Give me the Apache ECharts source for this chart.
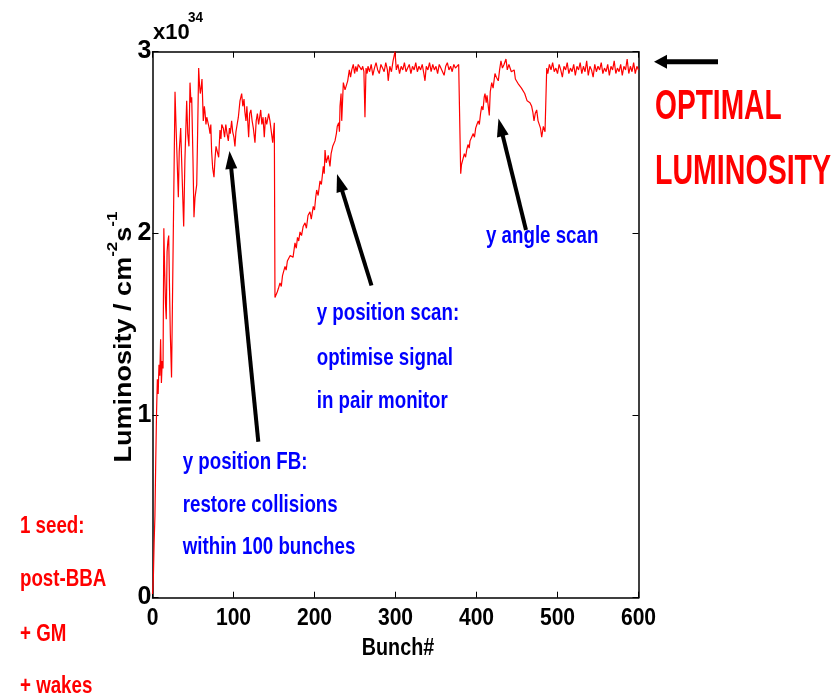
<!DOCTYPE html>
<html>
<head>
<meta charset="utf-8">
<title>Luminosity vs bunch</title>
<script src="https://cdn.jsdelivr.net/npm/echarts@6/dist/echarts.min.js"></script>
<style>
  html, body { margin: 0; padding: 0; background: #fff; }
  #chart { width: 839px; height: 699px; }
</style>
</head>
<body>
<div id="chart"></div>
<script>
// x tick values and y tick values (units of 1e34 cm^-2 s^-1)
var xTicks = [0, 100, 200, 300, 400, 500, 600];
var yTicks = [0, 1, 2, 3];

// [bunch, luminosity]
var trace = [
  [0, 0.02], [1, 0.1], [2, 0.3], [3, 0.45], [4, 0.75], [5, 1.02], [6, 1.2], [7, 1.12],
  [8, 1.28], [9, 1.22], [10, 1.42], [11, 1.18], [12, 1.3], [13, 1.26], [14, 2.03],
  [15, 1.8], [16, 1.62], [17, 1.53], [18, 1.9], [19, 1.96], [20, 1.99], [21, 1.7],
  [22, 1.45], [23.5, 1.21], [24, 1.22], [27.8, 2.78], [29, 2.6], [31.9, 2.2], [33, 2.45],
  [34.8, 2.58], [36, 2.4], [38.5, 2.04], [40, 2.4], [42.2, 2.73], [43.5, 2.55], [45, 2.48],
  [46.3, 2.83], [47.5, 2.72], [48.4, 2.75], [50, 2.4], [51.2, 2.09], [52.5, 2.2],
  [54.6, 2.27], [55.5, 2.5], [57, 2.91], [58, 2.82], [59, 2.77], [60, 2.8], [61.1, 2.85],
  [62.7, 2.62], [64, 2.7], [64.8, 2.67], [66, 2.6], [67, 2.64], [68.9, 2.64], [70, 2.58],
  [71, 2.55], [72, 2.6], [73, 2.45], [74.3, 2.36], [75.9, 2.31], [77, 2.4], [78.4, 2.48],
  [80, 2.47], [81.7, 2.42], [83.3, 2.57], [84.5, 2.52], [85.5, 2.6], [87.4, 2.58],
  [89, 2.53], [90.5, 2.6], [92, 2.55], [93.6, 2.51], [95, 2.58], [96, 2.55], [97.7, 2.62],
  [99, 2.56], [100.5, 2.53], [101.8, 2.48], [103, 2.56], [104.5, 2.6], [106, 2.64],
  [108, 2.73], [110.1, 2.77], [111.5, 2.7], [113, 2.74], [114, 2.67], [115.4, 2.62],
  [116.5, 2.7], [118.7, 2.53], [120, 2.66], [121.5, 2.68], [123, 2.62], [124.5, 2.58],
  [126.5, 2.5], [128, 2.62], [129.5, 2.66], [131, 2.6], [133.6, 2.68], [135, 2.6],
  [136.5, 2.64], [138, 2.53], [139.5, 2.64], [141, 2.6], [143.4, 2.66], [145, 2.62],
  [146.5, 2.63], [148.4, 2.5], [150.4, 2.61], [151.2, 1.65], [152.5, 1.64], [154, 1.68],
  [155.5, 1.7], [157.4, 1.73], [159, 1.71], [160.5, 1.77], [162, 1.76], [163.6, 1.82],
  [165, 1.8], [166.5, 1.85], [168, 1.84], [170, 1.88], [171.9, 1.89], [173.5, 1.87],
  [175.9, 1.95], [177.5, 1.92], [179, 1.98], [180.5, 1.96], [182.1, 2.01], [184, 1.99],
  [186, 2.04], [188.3, 2.06], [190, 2.03], [192, 2.1], [194.4, 2.12], [196, 2.08],
  [198.5, 2.15], [200, 2.13], [201.5, 2.2], [202.7, 2.24], [204.5, 2.21], [206.8, 2.29],
  [208.5, 2.27], [210.9, 2.37], [212, 2.33], [213, 2.46], [214.5, 2.39], [217, 2.43],
  [219.1, 2.37], [220.5, 2.44], [222.5, 2.48], [224, 2.47], [225.3, 2.51], [227, 2.55],
  [228.1, 2.59], [229.9, 2.61], [230.8, 2.56], [231.5, 2.7], [232.8, 2.77], [233.6, 2.62],
  [235.6, 2.83], [237.7, 2.79], [239.5, 2.8], [241, 2.84], [243, 2.9], [244.5, 2.86],
  [246, 2.9], [247.9, 2.93], [249.5, 2.88], [251, 2.92], [252.5, 2.89], [254, 2.93],
  [256.2, 2.94], [258, 2.9], [259.5, 2.92], [261, 2.89], [262.3, 2.64], [263.6, 2.91],
  [265, 2.88], [266, 2.92], [268, 2.89], [270, 2.93], [272, 2.87], [274, 2.91], [276, 2.94],
  [278, 2.9], [280, 2.88], [282, 2.93], [284, 2.91], [286, 2.89], [288, 2.94], [290, 2.9],
  [291, 2.84], [293, 2.92], [295, 2.89], [297, 2.95], [299.4, 3.0], [301, 2.9], [303, 2.93],
  [305, 2.88], [307, 2.92], [309, 2.9], [311, 2.94], [313, 2.89], [315, 2.91], [317, 2.93],
  [319, 2.88], [321, 2.92], [323, 2.9], [325, 2.94], [327, 2.89], [329, 2.92], [331, 2.9],
  [333, 2.93], [335, 2.88], [336.4, 2.84], [338, 2.92], [340, 2.9], [342, 2.94], [344, 2.89],
  [346, 2.93], [348, 2.9], [350, 2.92], [352, 2.88], [354, 2.93], [356, 2.91], [358, 2.9],
  [360, 2.87], [362, 2.92], [364, 2.94], [366, 2.9], [368, 2.92], [370, 2.89], [372, 2.93],
  [374, 2.91], [376, 2.9], [378, 2.93], [379.6, 2.92], [380.5, 2.33], [381.5, 2.38],
  [383.7, 2.39], [385, 2.44], [386.5, 2.42], [387.9, 2.46], [389.5, 2.49], [391, 2.47],
  [392, 2.51], [394, 2.53], [396, 2.55], [397.5, 2.53], [399, 2.58], [400.5, 2.6],
  [402.2, 2.62], [403.5, 2.6], [405, 2.66], [406.4, 2.7], [408, 2.68], [409.5, 2.75],
  [410.5, 2.77], [412, 2.72], [413, 2.76], [415.8, 2.65], [417, 2.78], [418.8, 2.83],
  [420.5, 2.8], [422.8, 2.88], [424.5, 2.86], [426.9, 2.84], [428.5, 2.9], [430.2, 2.95],
  [432, 2.91], [434, 2.93], [436.4, 2.96], [438, 2.9], [440, 2.93], [441.4, 2.94],
  [443, 2.89], [444.7, 2.88], [446.5, 2.9], [448, 2.85], [450.4, 2.86], [452, 2.82],
  [453.7, 2.83], [455.5, 2.8], [457.8, 2.79], [459.5, 2.77], [461.1, 2.76], [462.5, 2.73],
  [464, 2.74], [466, 2.72], [468.1, 2.7], [469.5, 2.67], [471, 2.62], [472.5, 2.66],
  [474.3, 2.68], [476, 2.62], [477.5, 2.62], [479, 2.58], [480.5, 2.53], [482.5, 2.59],
  [484.6, 2.56], [486.7, 2.91], [488, 2.88], [490, 2.93], [492, 2.9], [494, 2.94],
  [496, 2.89], [498, 2.91], [500, 2.88], [502, 2.93], [504, 2.9], [506, 2.86], [508, 2.92],
  [510, 2.9], [512, 2.94], [514, 2.88], [516, 2.91], [518, 2.89], [520, 2.93], [522, 2.87],
  [524, 2.92], [526, 2.9], [528, 2.94], [530, 2.88], [532, 2.92], [534, 2.89], [536, 2.95],
  [538, 2.87], [540, 2.92], [542, 2.9], [544, 2.86], [546, 2.93], [548, 2.89], [550, 2.92],
  [552, 2.9], [554, 2.94], [556, 2.88], [558, 2.91], [560, 2.89], [562, 2.93], [564, 2.87],
  [566, 2.92], [568, 2.9], [570, 2.95], [572, 2.88], [574, 2.91], [576, 2.89], [578, 2.93],
  [580, 2.87], [582, 2.92], [584, 2.9], [586, 2.96], [588, 2.88], [590, 2.92], [592, 2.89],
  [594, 2.94], [596, 2.88], [598, 2.92], [600, 2.9]
];

// the slide squeezes all text sideways, so glyphs get a scaleX
var FONT = "'Liberation Sans', Arial, sans-serif";
var SQ = 0.78;

function txt(str, x, y, size, color, sx, align, extra) {
  var el = {
    type: 'text', x: x, y: y, z: 20, scaleX: sx,
    style: {
      text: str, x: 0, y: -0.35 * size, fill: color,
      font: 'bold ' + size + 'px ' + FONT,
      align: align || 'left', verticalAlign: 'middle'
    }
  };
  for (var k in extra) el[k] = extra[k];
  return el;
}

// shaft + filled head, tip at (x2, y2)
function arrow(x1, y1, x2, y2, w, headLen, headW) {
  var dx = x2 - x1, dy = y2 - y1;
  var len = Math.sqrt(dx * dx + dy * dy);
  var ux = dx / len, uy = dy / len;
  var bx = x2 - ux * headLen, by = y2 - uy * headLen;
  var nx = -uy * headW / 2, ny = ux * headW / 2;
  return [
    { type: 'line', z: 20, shape: { x1: x1, y1: y1, x2: bx + ux * 2, y2: by + uy * 2 },
      style: { stroke: '#000', lineWidth: w } },
    { type: 'polygon', z: 20, shape: { points: [[x2, y2], [bx + nx, by + ny], [bx - nx, by - ny]] },
      style: { fill: '#000' } }
  ];
}

var myChart = echarts.init(document.getElementById('chart'));

var axisLine = { onZero: false, lineStyle: { color: '#000', width: 1.5 } };
var axisTick = { inside: true, length: 6, lineStyle: { color: '#000', width: 1 } };

var blue = '#0000ff';
var red = '#ff0000';

var option = {
  animation: false,
  backgroundColor: '#fff',
  grid: { left: 152.5, right: 200.5, top: 51.7, bottom: 101.3, containLabel: false },
  xAxis: [
    {
      type: 'value', position: 'bottom', min: xTicks[0], max: xTicks[xTicks.length - 1], interval: 100,
      axisLine: axisLine, axisTick: axisTick, splitLine: { show: false }, axisLabel: { show: false }
    },
    {
      type: 'value', position: 'top', min: xTicks[0], max: xTicks[xTicks.length - 1], interval: 100,
      axisLine: axisLine, axisTick: axisTick, splitLine: { show: false }, axisLabel: { show: false }
    }
  ],
  yAxis: [
    {
      type: 'value', position: 'left', min: yTicks[0], max: yTicks[yTicks.length - 1], interval: 1,
      axisLine: axisLine, axisTick: axisTick, splitLine: { show: false }, axisLabel: { show: false }
    },
    {
      type: 'value', position: 'right', min: yTicks[0], max: yTicks[yTicks.length - 1], interval: 1,
      axisLine: axisLine, axisTick: axisTick, splitLine: { show: false }, axisLabel: { show: false }
    }
  ],
  series: [
    {
      type: 'line',
      data: trace,
      showSymbol: false,
      symbol: 'none',
      lineStyle: { color: red, width: 1.2 },
      z: 5
    }
  ]
};

myChart.setOption(option);

// tick labels drawn as squeezed text at the axis positions
var tickLabels = [];
xTicks.forEach(function (v) {
  var px = myChart.convertToPixel({ xAxisIndex: 0 }, v);
  tickLabels.push(txt(String(v), px, 626.7, 24, '#000', 0.88, 'center'));
});
yTicks.forEach(function (v) {
  var py = myChart.convertToPixel({ yAxisIndex: 0 }, v);
  tickLabels.push(txt(String(v), 151.5, py + 8.5, 25, '#000', 1, 'right'));
});

var graphics = [].concat(
  tickLabels,
  arrow(258.3, 441.7, 229.5, 151, 4, 18, 12),
  arrow(371.5, 285.5, 337, 174, 4, 18, 12),
  arrow(526, 230, 498.5, 118.5, 4, 18, 12),
  arrow(718, 61.7, 654, 61.7, 5, 13, 14),
  [
    txt('x10', 153, 40.7, 22, '#000', 1),
    txt('34', 188, 23, 15, '#000', 0.9),
    txt('y position FB:', 182.7, 470.7, 24, blue, SQ),
    txt('restore collisions', 182.7, 513.3, 24, blue, SQ),
    txt('within 100 bunches', 182.7, 556, 24, blue, SQ),
    txt('y position scan:', 316.7, 321.7, 24, blue, SQ),
    txt('optimise signal', 316.7, 366.7, 24, blue, SQ),
    txt('in pair monitor', 316.7, 410, 24, blue, SQ),
    txt('y angle scan', 486, 245, 24, blue, SQ),
    txt('1 seed:', 20, 535, 24, red, SQ),
    txt('post-BBA', 20, 587.3, 24, red, SQ),
    txt('+ GM', 20, 642.7, 24, red, SQ),
    txt('+ wakes', 20, 695, 24, red, SQ),
    txt('OPTIMAL', 655, 121.7, 42, red, 0.67),
    txt('LUMINOSITY', 655, 186.7, 42, red, 0.68),
    txt('Bunch#', 398, 656.7, 23.5, '#000', 0.84, 'center'),
    {
      type: 'text', x: 136, y: 337, rotation: Math.PI / 2, z: 20, scaleY: 0.9,
      style: {
        text: '{m|Luminosity / cm}{s|-2}{m|s}{s|-1}',
        x: 0, y: 0, align: 'center', verticalAlign: 'bottom', fill: '#000',
        rich: {
          m: { font: 'bold 27px ' + FONT, lineHeight: 34, verticalAlign: 'bottom' },
          s: { font: 'bold 17px ' + FONT, lineHeight: 34, verticalAlign: 'top' }
        }
      }
    }
  ]
);

myChart.setOption({ graphic: { elements: graphics } });
</script>
</body>
</html>
